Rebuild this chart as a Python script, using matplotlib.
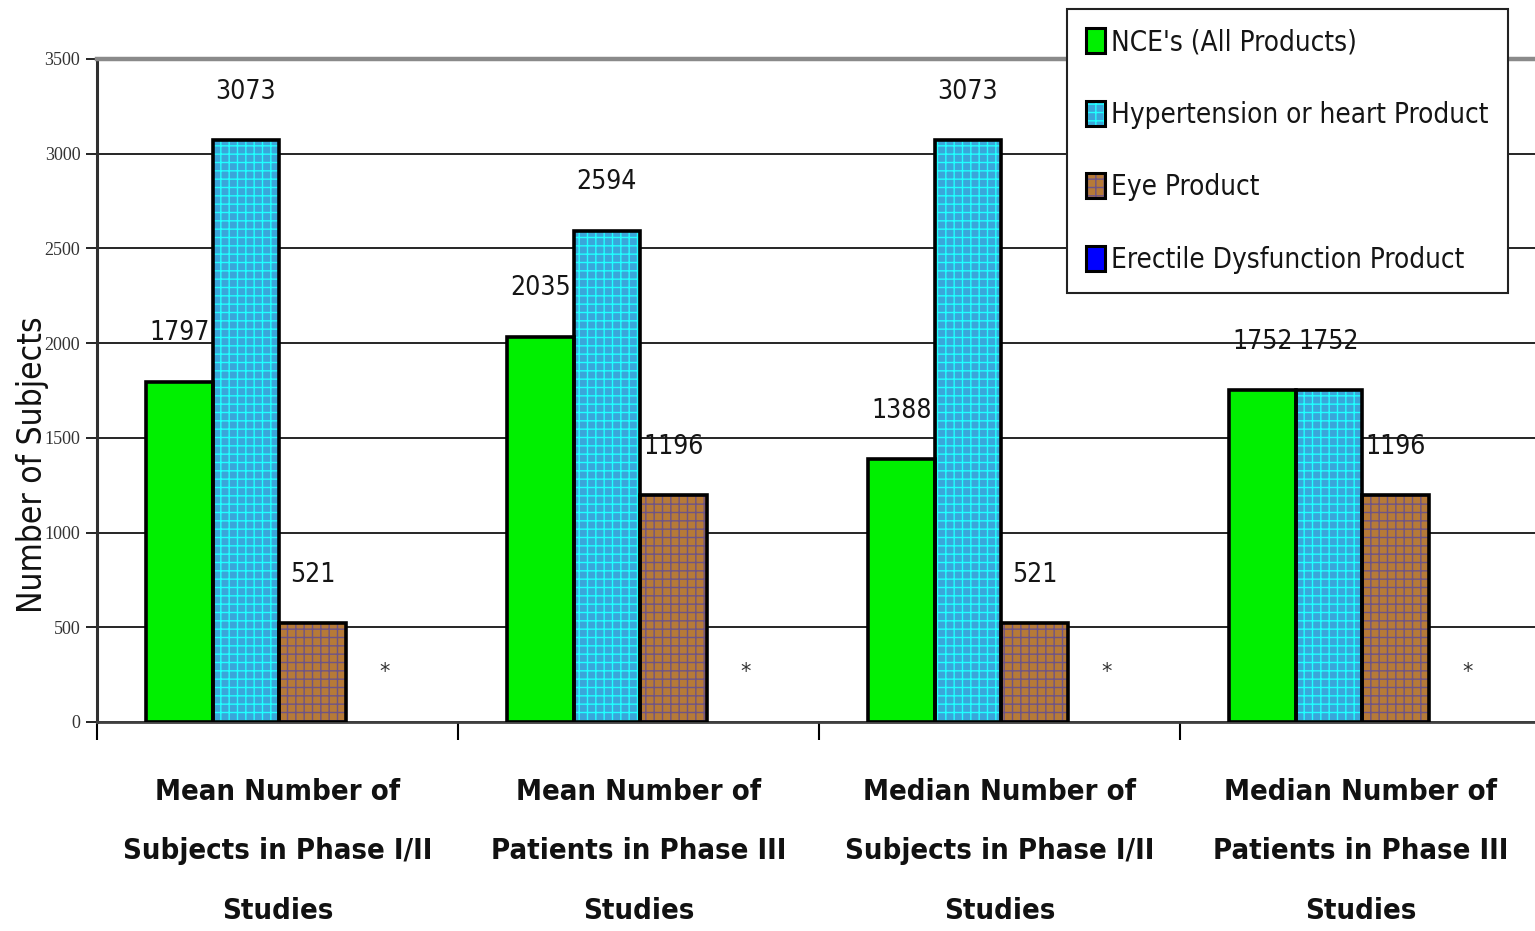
import numpy as np
import matplotlib
matplotlib.use('Agg')
import matplotlib.pyplot as plt
from matplotlib.patches import Patch
from matplotlib.legend_handler import HandlerTuple

categories = ['Mean Number of\nSubjects in Phase I/II\nStudies',
              'Mean Number of\nPatients in Phase III\nStudies',
              'Median Number of\nSubjects in Phase I/II\nStudies',
              'Median Number of\nPatients in Phase III\nStudies']
series_names = ["NCE's (All Products)", 'Hypertension or heart Product',
                'Eye Product', 'Erectile Dysfunction Product']
nce = [1797, 2035, 1388, 1752]
hypertension = [3073, 2594, 3073, 1752]
eye = [521, 1196, 521, 1196]
erectile_labels = ['*', '*', '*', '*']   # no data for this product
yticks = [0, 500, 1000, 1500, 2000, 2500, 3000, 3500]

narrow = {'family': 'DejaVu Sans', 'stretch': 'condensed'}

fig = plt.figure(figsize=(15.35, 9.31), dpi=100)
ax = fig.add_axes([97 / 1535, 1 - 722 / 931, 1444 / 1535, 663 / 931])

# bar styling: base colour, hatch pattern, hatch colour
styles = [
    ('#00f000', None, '#00f000'),
    ('#3aa6da', '++', '#20ffff'),
    ('#b67a38', '++', '#6e5486'),
    ('#0000ff', None, '#0000ff'),
]
values = [nce, hypertension, eye]

width = 0.1842
offset = 0.136
x = np.arange(len(categories))

for i, vals in enumerate(values):
    fc, hatch, hc = styles[i]
    pos = x + offset + width * (i + 0.5)
    ax.bar(pos, vals, width, color=fc, hatch=hatch, edgecolor=hc, linewidth=0, zorder=3)
    ax.bar(pos, vals, width, fill=False, edgecolor='black', linewidth=2.6, zorder=4)
    for px, v in zip(pos, vals):
        ax.text(px, v + 255, str(v), ha='center', va='center', fontsize=19,
                color='#151515', zorder=5, **narrow)

pos4 = x + offset + width * 3.5
for px, lab in zip(pos4, erectile_labels):
    ax.text(px + 0.015, 265, lab, ha='center', va='center', fontsize=15,
            color='#333333', zorder=5)

ax.set_xlim(0, 4)
ax.set_ylim(0, 3500)
ax.set_yticks(yticks)
ax.set_yticklabels([str(t) for t in yticks], family=['Liberation Serif'],
                   fontsize=13, color='#333333')
ax.tick_params(axis='y', length=8, width=1.2, direction='out', pad=4)

ax.set_xticks(np.arange(5))
ax.set_xticklabels([])
ax.tick_params(axis='x', which='major', length=13, width=1.5, direction='out')
ax.set_xticks(x + 0.5, minor=True)
ax.set_xticklabels(categories, minor=True, fontweight='bold',
                   fontsize=21, linespacing=2.45, color='#111111', **narrow)
ax.tick_params(axis='x', which='minor', length=0, pad=40)

ax.yaxis.grid(True, color='black', linewidth=1.2, zorder=0)
ax.set_axisbelow(True)

ax.spines['right'].set_visible(False)
ax.spines['top'].set_color('#8a8a8a')
ax.spines['top'].set_linewidth(3.2)
ax.spines['left'].set_color('#303030')
ax.spines['left'].set_linewidth(2.2)
ax.spines['bottom'].set_color('#404040')
ax.spines['bottom'].set_linewidth(2.0)

fig.text(33 / 1535, 1 - 465 / 931, 'Number of Subjects', rotation=90,
         ha='center', va='center', fontsize=24, color='#111111', **narrow)

handles = []
for fc, hatch, hc in styles:
    fill = Patch(facecolor=fc, hatch=hatch, edgecolor=hc, linewidth=0)
    edge = Patch(fill=False, edgecolor='black', linewidth=2.2)
    handles.append((fill, edge))

leg = fig.legend(handles, series_names, loc='upper left',
                 bbox_to_anchor=(1067 / 1535, 1 - 9 / 931),
                 handler_map={tuple: HandlerTuple(ndivide=1)},
                 prop={'family': 'DejaVu Sans', 'stretch': 'condensed', 'size': 20},
                 handlelength=0.68, handleheight=1.0, handletextpad=0.2,
                 labelspacing=1.6, borderpad=0.7, borderaxespad=0,
                 fancybox=False, framealpha=1, edgecolor='#222222')
leg.get_frame().set_linewidth(1.5)
for t in leg.get_texts():
    t.set_color('#151515')

fig.savefig('out.png', dpi=100)
